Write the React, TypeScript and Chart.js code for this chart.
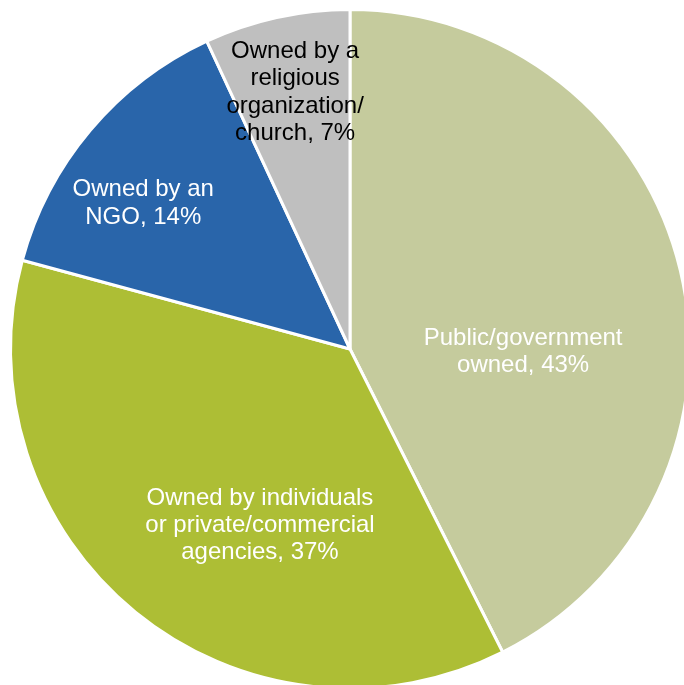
import React, { useEffect, useRef } from "react";
import { Chart, registerables } from "chart.js";

Chart.register(...registerables);

const categories = [
  "Public/government owned",
  "Owned by individuals or private/commercial agencies",
  "Owned by an NGO",
  "Owned by a religious organization/ church",
];
const shares = [43, 37, 14, 7];
const sliceColors = ["#C5CB9D", "#ADBE35", "#2965AA", "#BFBFBF"];
const labelLines = [
  ["Public/government", "owned, 43%"],
  ["Owned by individuals", "or private/commercial", "agencies, 37%"],
  ["Owned by an", "NGO, 14%"],
  ["Owned by a", "religious", "organization/", "church, 7%"],
];
const labelColors = ["#FFFFFF", "#FFFFFF", "#FFFFFF", "#000000"];
// label placement: angle shift (deg, clockwise) from slice mid-angle, and radius fraction
const labelAngleShift = [13.6, -11.9, -4.6, 0.5];
const labelRadiusFrac = [0.51, 0.578, 0.748, 0.779];

const FONT_SIZE = 24;
const LINE_HEIGHT = 27.4;

const sliceLabelPlugin = {
  id: "sliceLabels",
  afterDatasetsDraw(chart: any) {
    const ctx = chart.ctx;
    const meta = chart.getDatasetMeta(0);
    ctx.save();
    ctx.font = `${FONT_SIZE}px "Liberation Sans", Arial, sans-serif`;
    ctx.textAlign = "center";
    ctx.textBaseline = "alphabetic";
    meta.data.forEach((arc: any, i: number) => {
      const p = arc.getProps(["x", "y", "startAngle", "endAngle", "outerRadius"], true);
      const a = (p.startAngle + p.endAngle) / 2 + (labelAngleShift[i] * Math.PI) / 180;
      const r = p.outerRadius * labelRadiusFrac[i];
      const cx = p.x + Math.cos(a) * r;
      const cy = p.y + Math.sin(a) * r;
      const lines = labelLines[i];
      const capHalf = FONT_SIZE * 0.716 / 2;
      ctx.fillStyle = labelColors[i];
      lines.forEach((ln, j) => {
        const y = cy - ((lines.length - 1) / 2) * LINE_HEIGHT + capHalf + j * LINE_HEIGHT;
        ctx.fillText(ln, cx, y);
      });
    });
    ctx.restore();
  },
};

export default function App() {
  const ref = useRef<HTMLCanvasElement | null>(null);
  useEffect(() => {
    if (!ref.current) return;
    const chart = new Chart(ref.current, {
      type: "pie",
      data: {
        labels: categories,
        datasets: [
          {
            data: shares,
            backgroundColor: sliceColors,
            borderColor: "#FFFFFF",
            borderWidth: 3,
          },
        ],
      },
      options: {
        responsive: false,
        animation: false,
        radius: 339.5,
        layout: { padding: { left: 0, top: 0, right: 0, bottom: 2 } },
        plugins: {
          legend: { display: false },
          tooltip: { enabled: false },
        },
      },
      plugins: [sliceLabelPlugin],
    });
    return () => chart.destroy();
  }, []);
  return (
    <div
      style={{
        position: "fixed",
        left: 0,
        top: 0,
        width: 684,
        height: 685,
        overflow: "hidden",
        background: "#FFFFFF",
      }}
    >
      <canvas ref={ref} width={700} height={700} style={{ display: "block" }} />
    </div>
  );
}
